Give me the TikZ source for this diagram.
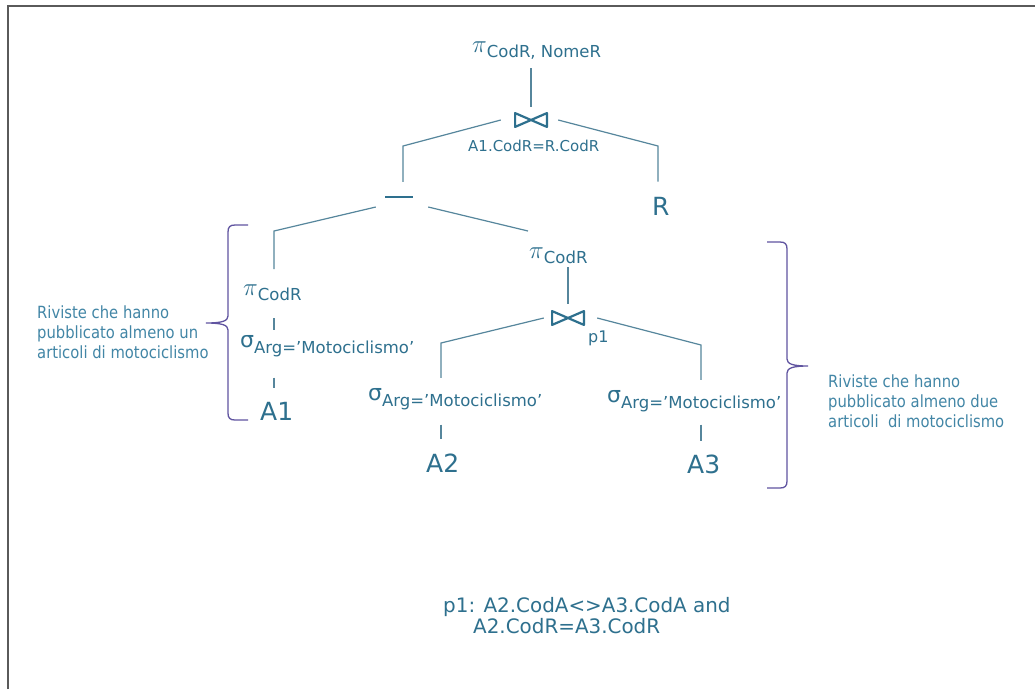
\documentclass[tikz,border=0pt]{standalone}
\usepackage{fontspec}
\setmainfont{DejaVu Sans}
\newfontfamily\condfont[FakeStretch=0.88]{DejaVu Sans}
\usetikzlibrary{calc}
\definecolor{txt}{RGB}{46,112,142}
\definecolor{sidetxt}{RGB}{66,134,166}
\definecolor{ln}{RGB}{86,134,156}
\definecolor{brc}{RGB}{96,84,160}
\definecolor{framec}{RGB}{90,90,90}
\newcommand{\mypi}{{\fontsize{26}{26}\selectfont$\pi$}}
\newcommand{\mysig}{{\fontsize{22}{22}\selectfont σ}}
\newcommand{\mysub}[2][-5pt]{\raisebox{#1}{\fontsize{16.5}{16.5}\selectfont #2}}
\begin{document}
\begin{tikzpicture}[x=1pt,y=-1pt,
  conn/.style={draw=ln, line width=1.2pt},
  lbl/.style={inner sep=0pt, anchor=base west, text=txt},
  big/.style={lbl, font=\fontsize{25}{25}\selectfont},
  bowtie/.style={minimum width=34pt, minimum height=16pt, inner sep=0pt,
    path picture={\draw[txt, line width=2.2pt, line join=round]
      ([shift={(1.1pt,-1.1pt)}]path picture bounding box.north west) --
      ([shift={(-1.1pt,1.1pt)}]path picture bounding box.south east) --
      ([shift={(-1.1pt,-1.1pt)}]path picture bounding box.north east) --
      ([shift={(1.1pt,1.1pt)}]path picture bounding box.south west) -- cycle;}},
  side/.style={inner sep=0pt, anchor=north west, align=left, text=sidetxt,
    font=\condfont\fontsize{16.8}{20}\selectfont},
  bottomtxt/.style={lbl, font=\fontsize{19.9}{19.9}\selectfont},
  bracestyle/.style={draw=brc, line width=1.3pt}]
\useasboundingbox (0,0) rectangle (1035,689);
\fill[white] (0,0) rectangle (1035,689);
% frame
\draw[framec, line width=2pt] (8,689) -- (8,6) -- (1035,6);

% nodes
\node[lbl] (p0) at (472,52) {\mypi\mysub{CodR, NomeR}};
\node[bowtie] (j1) at (531,120) {};
\node[lbl, font=\fontsize{15}{15}\selectfont] (cond1) at (468,151) {A1.CodR=R.CodR};
\node[inner sep=0pt, text=txt] (minus) at (399,197) {\rule{28pt}{2pt}};
\node[big] (R) at (652,215) {R};

\node[lbl] (p1l) at (243,295) {\mypi\mysub{CodR}};
\node[lbl] (s1) at (240,347) {\mysig\mysub[-6pt]{Arg=’Motociclismo’}};
\node[big] (A1) at (260,420) {A1};

\node[lbl] (p2) at (529,258) {\mypi\mysub{CodR}};
\node[bowtie] (j2) at (568,318) {};
\node[lbl, font=\fontsize{16}{16}\selectfont] (p1lab) at (588,342) {p1};
\node[lbl] (s2) at (368,400) {\mysig\mysub[-6pt]{Arg=’Motociclismo’}};
\node[lbl] (s3) at (607,402) {\mysig\mysub[-6pt]{Arg=’Motociclismo’}};
\node[big] (A2) at (426,472) {A2};
\node[big] (A3) at (687,473) {A3};

\coordinate (c1) at (403,146);
\coordinate (c2) at (658,146);
\coordinate (c3) at (274,231);
\coordinate (c4) at (528,231);
\coordinate (c5) at (441,343);
\coordinate (c6) at (701,345);

% connectors
\draw[conn, shorten <=9pt, shorten >=5pt] (p0.south -| j1.north) -- (j1.north);
\draw[conn, shorten >=14pt] ([xshift=-13pt]j1.west) -- (c1) -- (c1 |- minus.north);
\draw[conn, shorten >=15pt] ([xshift=10pt]j1.east) -- (c2) -- (c2 |- R.north);
\draw[conn, shorten >=15pt] ([shift={(-9pt,-10pt)}]minus.west) -- (c3) -- (c3 |- p1l.north);
\draw[conn] ([shift={(15pt,-10pt)}]minus.east) -- (c4);
\draw[conn, shorten <=18pt, shorten >=5pt] (p1l.south -| c3) -- (s1.north -| c3);
\draw[conn, shorten <=21pt, shorten >=14pt] (s1.south -| c3) -- (A1.north -| c3);
\draw[conn, shorten <=4pt, shorten >=6pt] (p2.south -| j2.north) -- (j2.north);
\draw[conn, shorten >=10pt] ([xshift=-7pt]j2.west) -- (c5) -- (c5 |- s2.north);
\draw[conn, shorten >=10pt] ([xshift=12pt]j2.east) -- (c6) -- (c6 |- s3.north);
\draw[conn, shorten <=15pt, shorten >=14pt] (s2.south -| c5) -- (A2.north -| c5);
\draw[conn, shorten <=13pt, shorten >=13pt] (s3.south -| c6) -- (A3.north -| c6);

% braces
\draw[bracestyle] (248,225) -- (235,225) .. controls (230,225) and (228,227) .. (228,232)
  -- (228,316) .. controls (228,321) and (222,323) .. (206,323)
  .. controls (222,323) and (228,325) .. (228,330)
  -- (228,413) .. controls (228,418) and (230,420) .. (235,420) -- (248,420);
\draw[bracestyle] (767,242) -- (780,242) .. controls (785,242) and (787,244) .. (787,249)
  -- (787,359) .. controls (787,364) and (793,366) .. (808,366)
  .. controls (793,366) and (787,368) .. (787,373)
  -- (787,481) .. controls (787,486) and (785,488) .. (780,488) -- (767,488);

% side texts
\node[side] (lt) at (37,306) {Riviste che hanno\\pubblicato almeno un\\articoli di motociclismo};
\node[side] (rt) at (828,375) {Riviste che hanno\\pubblicato almeno due\\articoli\ \ di motociclismo};

% bottom
\node[bottomtxt] (bt1) at (443,612) {p1: A2.CodA<>A3.CodA and};
\node[bottomtxt] (bt2) at (473,633) {A2.CodR=A3.CodR};
\end{tikzpicture}
\end{document}
